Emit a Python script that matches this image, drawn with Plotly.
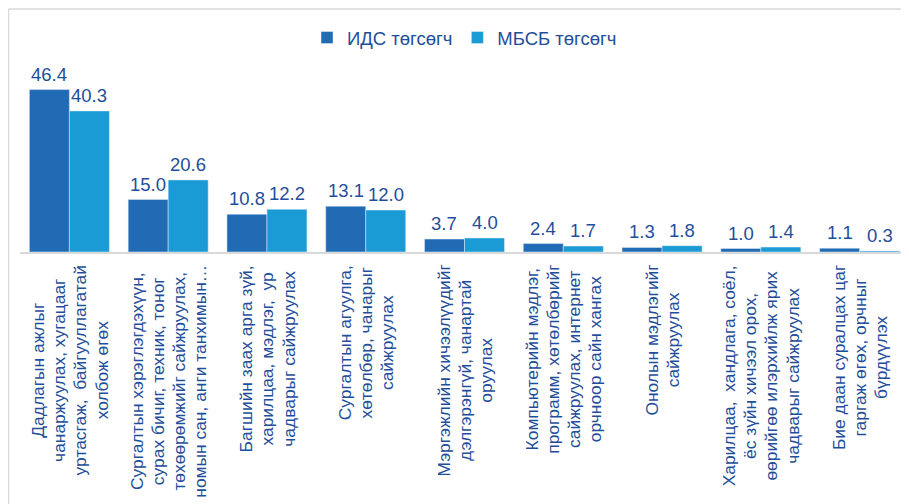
import plotly.graph_objects as go

categories = [
    "Дадлагын ажлыг<br>чанаржуулах, хугацааг<br>уртасгаж,  байгууллагатай<br>холбож өгөх",
    "Сургалтын хэрэглэгдэхүүн,<br>сурах бичиг, техник, тоног<br>төхөөрөмжийг сайжруулах,<br>номын сан, анги танхимын…",
    "Багшийн заах арга зүй,<br>харилцаа, мэдлэг,  ур<br>чадварыг сайжруулах",
    "Сургалтын агуулга,<br>хөтөлбөр, чанарыг<br>сайжруулах",
    "Мэргэжлийн хичээлүүдийг<br>дэлгэрэнгүй, чанартай<br>оруулах",
    "Компьютерийн мэдлэг,<br>программ, хөтөлбөрийг<br>сайжруулах, интернет<br>орчноор сайн хангах",
    "Онолын мэдлэгийг<br>сайжруулах",
    "Харилцаа,  хандлага, соёл,<br>ёс зүйн хичээл орох,<br>өөрийгөө илэрхийлж ярих<br>чадварыг сайжруулах",
    "Бие даан суралцах цаг<br>гаргаж өгөх, орчныг<br>бүрдүүлэх",
]
ids_values = [46.4, 15.0, 10.8, 13.1, 3.7, 2.4, 1.3, 1.0, 1.1]
mbsb_values = [40.3, 20.6, 12.2, 12.0, 4.0, 1.7, 1.8, 1.4, 0.3]
series_names = ["ИДС төгсөгч", "МБСБ төгсөгч"]

# page body has an 8px margin, so the figure is a bit smaller than the window
W, H = 901, 496
ML, MR, MT, MB = 12, 0, 62, 252
BARGAP = 0.19
YMAX = 52

C_IDS = "#206BB4"
C_MBSB = "#1A9BD6"
TXT = "#1F4E9A"
FONT = "Liberation Sans, Arial, sans-serif"

x_idx = list(range(len(categories)))

fig = go.Figure()
fig.add_trace(go.Bar(x=x_idx, y=ids_values, name=series_names[0], marker_color=C_IDS))
fig.add_trace(go.Bar(x=x_idx, y=mbsb_values, name=series_names[1], marker_color=C_MBSB))

plot_w = W - ML - MR
plot_h = H - MT - MB
cat_w = plot_w / len(categories)
bar_w = cat_w * (1 - BARGAP) / 2

annotations = []
for vals, sign in ((ids_values, -1), (mbsb_values, 1)):
    for i, v in enumerate(vals):
        annotations.append(dict(
            x=i, y=v, xref="x", yref="y", text=f"{v:.1f}", showarrow=False,
            xanchor="center", yanchor="bottom", xshift=sign * bar_w / 2, yshift=3,
            font=dict(family=FONT, size=18.5, color=TXT),
        ))
# line spacing follows the annotation font size (16.2 -> ~21px); glyphs drawn larger
span = '<span style="font-size:17.4px">'
for i, c in enumerate(categories):
    annotations.append(dict(
        x=i, y=0, xref="x", yref="paper",
        text=span + c.replace("<br>", "</span><br>" + span) + "</span>",
        showarrow=False, textangle=-90,
        xanchor="center", yanchor="top", align="center", yshift=-11,
        font=dict(family=FONT, size=16.2, color=TXT),
    ))

# chart frame (left and top lines)
fx = -(ML - 0.5) / plot_w
fy_top = (plot_h + MT - 1) / plot_h
fy_bot = -MB / plot_h
shapes = [
    dict(type="line", xref="paper", yref="paper", x0=fx, x1=fx, y0=fy_bot, y1=fy_top,
         line=dict(color="#D9D9D9", width=1.5)),
    dict(type="line", xref="paper", yref="paper", x0=fx, x1=1.01, y0=fy_top, y1=fy_top,
         line=dict(color="#D9D9D9", width=1.5)),
]

fig.update_layout(
    width=W, height=H,
    margin=dict(l=ML, r=MR, t=MT, b=MB),
    paper_bgcolor="white", plot_bgcolor="white",
    barmode="group", bargap=BARGAP, bargroupgap=0,
    showlegend=True,
    legend=dict(orientation="h", x=0.5, xanchor="center", y=(plot_h + MT - 30) / plot_h,
                yanchor="middle", font=dict(family=FONT, size=18.5, color=TXT),
                itemwidth=30, traceorder="normal"),
    xaxis=dict(tickvals=x_idx, ticktext=[""] * len(categories), showgrid=False,
               showline=True, linecolor="#D9D9D9", linewidth=2, zeroline=False,
               range=[-0.5, len(categories) - 0.5]),
    yaxis=dict(range=[0, YMAX], visible=False, showgrid=False, zeroline=False),
    annotations=annotations,
    shapes=shapes,
)

fig.write_html("out.html")
